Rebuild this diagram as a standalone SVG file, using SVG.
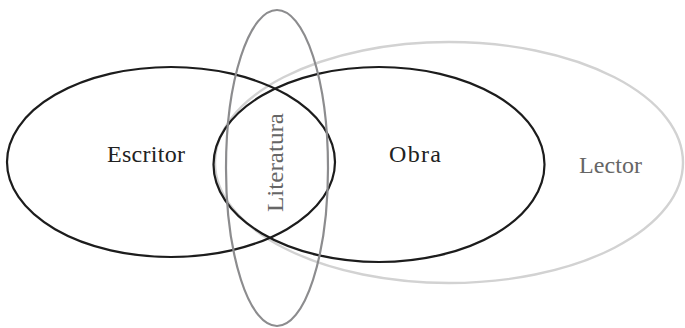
<svg xmlns="http://www.w3.org/2000/svg" width="685" height="328" viewBox="0 0 685 328">
<style>
.e{fill:none}
.blk{stroke:#1c1c1c;stroke-width:2.2}
.lit{stroke:#8c8c8e;stroke-width:2.2}
.lec{stroke:#d2d2d2;stroke-width:2.4}
.t{font-family:'Liberation Serif','Times New Roman',serif;font-size:24px}
.dk{fill:#222}
.gr{fill:#666}
</style>
<rect width="685" height="328" fill="#fff"/>
<g id="lector">
<ellipse class="e lec" cx="449" cy="162.5" rx="234" ry="120.5"/>
<text class="t gr" x="579" y="173" textLength="63">Lector</text>
</g>
<g id="escritor">
<ellipse class="e blk" cx="171" cy="162" rx="164" ry="95"/>
<text class="t dk" x="107" y="162" textLength="78">Escritor</text>
</g>
<g id="obra">
<ellipse class="e blk" cx="379" cy="164.5" rx="165.5" ry="97.5"/>
<text class="t dk" x="389" y="162" textLength="52">Obra</text>
</g>
<g id="literatura">
<ellipse class="e lit" cx="277" cy="168" rx="51" ry="158"/>
<text class="t gr" transform="translate(282.5,212) rotate(-90)" x="0" y="0" textLength="99" lengthAdjust="spacingAndGlyphs">Literatura</text>
</g>
<g id="connectors"></g>
</svg>
